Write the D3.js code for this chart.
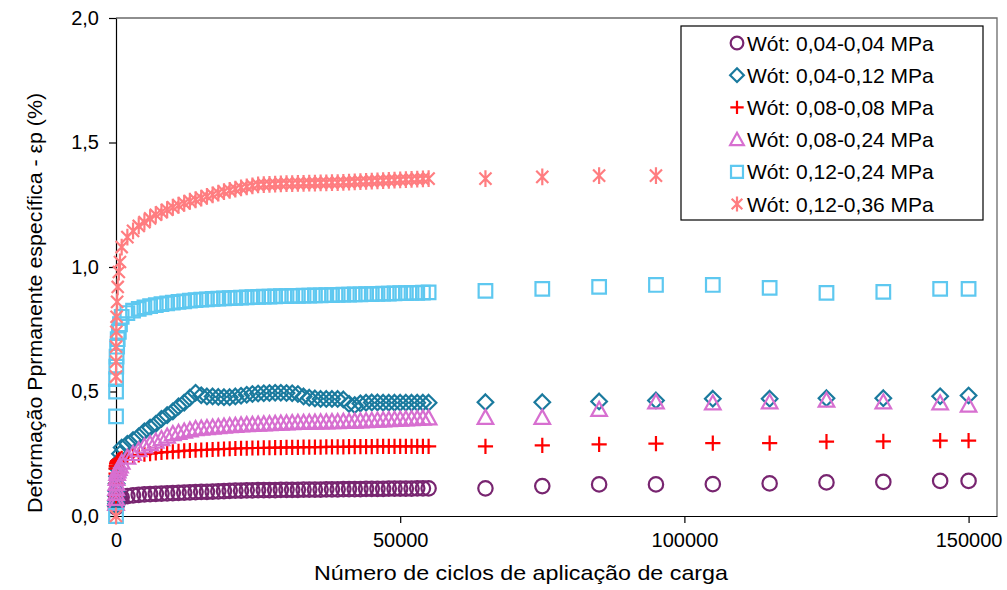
<!DOCTYPE html>
<html>
<head>
<meta charset="utf-8">
<script src="https://cdn.jsdelivr.net/npm/d3@7"></script>
<style>
  body { margin: 0; background: #fff; }
  svg { display: block; font-family: "Liberation Sans", Arial, sans-serif; }
</style>
</head>
<body>
<svg></svg>
<script>
var width = 1007, height = 590;

// ciclos (eixo x)
var cycles = [0, 5, 10, 20, 50, 100, 200, 300, 500, 700,
  1000, 2000, 3000, 4000, 5000, 6000, 7000, 8000, 9000, 10000,
  11000, 12000, 13000, 14000, 15000, 16000, 17000, 18000, 19000, 20000,
  21000, 22000, 23000, 24000, 25000, 26000, 27000, 28000, 29000, 30000,
  31000, 32000, 33000, 34000, 35000, 36000, 37000, 38000, 39000, 40000,
  41000, 42000, 43000, 44000, 45000, 46000, 47000, 48000, 49000, 50000,
  51000, 52000, 53000, 54000, 55000,
  65000, 75000, 85000, 95000, 105000, 115000, 125000, 135000, 145000, 150000];

var w004_004 = [0.035, 0.04, 0.04, 0.045, 0.05, 0.055, 0.06, 0.065, 0.07, 0.072,
  0.075, 0.08, 0.083, 0.085, 0.087, 0.088, 0.089, 0.09, 0.091, 0.092,
  0.093, 0.094, 0.095, 0.096, 0.097, 0.097, 0.098, 0.099, 0.1, 0.101,
  0.102, 0.102, 0.103, 0.103, 0.104, 0.104, 0.104, 0.104, 0.105, 0.105,
  0.105, 0.105, 0.106, 0.106, 0.106, 0.106, 0.107, 0.107, 0.107, 0.108,
  0.108, 0.108, 0.108, 0.109, 0.109, 0.109, 0.109, 0.11, 0.11, 0.11,
  0.11, 0.11, 0.111, 0.111, 0.111,
  0.111, 0.12, 0.127, 0.127, 0.128, 0.131, 0.135, 0.137, 0.141, 0.141];

var w004_012 = [0.04, 0.05, 0.06, 0.08, 0.1, 0.13, 0.16, 0.19, 0.22, 0.25,
  0.275, 0.29, 0.305, 0.32, 0.34, 0.355, 0.37, 0.39, 0.405, 0.42,
  0.44, 0.455, 0.475, 0.495, 0.485, 0.48, 0.48, 0.478, 0.477, 0.477,
  0.48, 0.483, 0.487, 0.49, 0.492, 0.493, 0.494, 0.495, 0.495, 0.494,
  0.493, 0.49, 0.48, 0.475, 0.472, 0.47, 0.47, 0.47, 0.47, 0.468,
  0.45, 0.445, 0.452, 0.455, 0.456, 0.456, 0.455, 0.455, 0.455, 0.455,
  0.455, 0.455, 0.455, 0.455, 0.455,
  0.457, 0.457, 0.46, 0.464, 0.471, 0.471, 0.473, 0.473, 0.481, 0.484];

var w008_008 = [0.08, 0.13, 0.17, 0.19, 0.2, 0.21, 0.215, 0.22, 0.225, 0.228,
  0.232, 0.238, 0.242, 0.245, 0.248, 0.25, 0.253, 0.255, 0.257, 0.258,
  0.26, 0.262, 0.263, 0.264, 0.265, 0.266, 0.267, 0.268, 0.269, 0.27,
  0.271, 0.272, 0.272, 0.273, 0.273, 0.274, 0.274, 0.275, 0.275, 0.276,
  0.276, 0.276, 0.277, 0.277, 0.277, 0.277, 0.278, 0.278, 0.278, 0.278,
  0.279, 0.279, 0.279, 0.279, 0.279, 0.28, 0.28, 0.28, 0.28, 0.28,
  0.28, 0.28, 0.28, 0.28, 0.28,
  0.28, 0.284, 0.288, 0.291, 0.293, 0.293, 0.299, 0.3, 0.303, 0.303];

var w008_024 = [0.05, 0.07, 0.09, 0.11, 0.13, 0.15, 0.17, 0.18, 0.19, 0.2,
  0.215, 0.235, 0.25, 0.265, 0.28, 0.29, 0.3, 0.31, 0.32, 0.33,
  0.335, 0.34, 0.345, 0.35, 0.352, 0.354, 0.356, 0.358, 0.36, 0.362,
  0.363, 0.365, 0.366, 0.367, 0.368, 0.369, 0.37, 0.371, 0.372, 0.373,
  0.374, 0.375, 0.375, 0.376, 0.376, 0.377, 0.377, 0.378, 0.378, 0.379,
  0.379, 0.38, 0.381, 0.382, 0.383, 0.384, 0.385, 0.386, 0.387, 0.388,
  0.389, 0.39, 0.391, 0.392, 0.393,
  0.395, 0.395, 0.427, 0.457, 0.453, 0.457, 0.464, 0.457, 0.453, 0.444];

var w012_024 = [0.0, 0.4, 0.5, 0.55, 0.6, 0.64, 0.68, 0.71, 0.74, 0.77,
  0.8, 0.815, 0.825, 0.832, 0.838, 0.843, 0.847, 0.851, 0.854, 0.857,
  0.86, 0.862, 0.865, 0.867, 0.869, 0.87, 0.872, 0.873, 0.874, 0.875,
  0.876, 0.877, 0.878, 0.879, 0.88, 0.881, 0.881, 0.882, 0.883, 0.883,
  0.884, 0.884, 0.885, 0.885, 0.886, 0.886, 0.887, 0.887, 0.888, 0.889,
  0.889, 0.89, 0.89, 0.891, 0.891, 0.892, 0.893, 0.893, 0.894, 0.895,
  0.895, 0.896, 0.896, 0.897, 0.898,
  0.904, 0.912, 0.92, 0.928, 0.928, 0.916, 0.896, 0.9, 0.912, 0.912];

// pontos atrás da legenda não são visíveis -> null
var w012_036 = [0.0, 0.56, 0.62, 0.68, 0.74, 0.8, 0.86, 0.92, 0.98, 1.02,
  1.08, 1.12, 1.145, 1.165, 1.18, 1.195, 1.21, 1.22, 1.23, 1.24,
  1.248, 1.256, 1.264, 1.27, 1.277, 1.284, 1.29, 1.297, 1.303, 1.308,
  1.313, 1.318, 1.322, 1.326, 1.33, 1.331, 1.332, 1.333, 1.334, 1.335,
  1.335, 1.336, 1.336, 1.337, 1.337, 1.338, 1.338, 1.339, 1.339, 1.34,
  1.341, 1.342, 1.343, 1.344, 1.345, 1.346, 1.347, 1.348, 1.349, 1.35,
  1.351, 1.352, 1.353, 1.354, 1.355,
  1.355, 1.362, 1.367, 1.367, null, null, null, null, null, null];

var seriesNames = ["Wót: 0,04-0,04 MPa", "Wót: 0,04-0,12 MPa", "Wót: 0,08-0,08 MPa",
  "Wót: 0,08-0,24 MPa", "Wót: 0,12-0,24 MPa", "Wót: 0,12-0,36 MPa"];
var seriesValues = [w004_004, w004_012, w008_008, w008_024, w012_024, w012_036];
var seriesColors = ["#782570", "#1a7a9e", "#ff0000", "#d76fd0", "#5ec8f0", "#ff7d80"];
var seriesShapes = ["circle", "diamond", "plus", "triangle", "square", "star"];

var xTicks = [0, 50000, 100000, 150000];
var yTicks = [0, 0.5, 1.0, 1.5, 2.0];

var svg = d3.select("svg").attr("width", width).attr("height", height);

var x = d3.scaleLinear().domain([0, 155000]).range([116, 997]);
var y = d3.scaleLinear().domain([0, 2]).range([516, 18]);

// marcadores
function shapePath(shape, s) {
  var p = d3.path();
  if (shape == "circle") {
    p.arc(0, 0, s, 0, 2 * Math.PI);
  } else if (shape == "diamond") {
    p.moveTo(0, -s); p.lineTo(s, 0); p.lineTo(0, s); p.lineTo(-s, 0); p.closePath();
  } else if (shape == "plus") {
    p.moveTo(-s, 0); p.lineTo(s, 0); p.moveTo(0, -s); p.lineTo(0, s);
  } else if (shape == "triangle") {
    p.moveTo(0, -s); p.lineTo(s, s * 0.8); p.lineTo(-s, s * 0.8); p.closePath();
  } else if (shape == "square") {
    p.rect(-s * 0.85, -s * 0.85, s * 1.7, s * 1.7);
  } else if (shape == "star") {
    var d = s * 0.72;
    p.moveTo(0, -s); p.lineTo(0, s);
    p.moveTo(-d, -d); p.lineTo(d, d);
    p.moveTo(d, -d); p.lineTo(-d, d);
  }
  return p.toString();
}
var markerSize = [7.2, 7.8, 7.6, 7.8, 8, 8.4];

// borda da área de plotagem
svg.append("path")
  .attr("d", "M" + x(0) + "," + y(2) + "H" + x(155000) + "V" + y(0))
  .attr("fill", "none")
  .attr("stroke", "#6a6a6a")
  .attr("stroke-width", 1.3);

// eixos
var xAxis = svg.append("g")
  .attr("transform", "translate(0," + y(0) + ")")
  .call(d3.axisBottom(x).tickValues(xTicks).tickSize(7).tickSizeOuter(0).tickFormat(d3.format("d")));
var yAxis = svg.append("g")
  .attr("transform", "translate(" + x(0) + ",0)")
  .call(d3.axisLeft(y).tickValues(yTicks).tickSize(7).tickSizeOuter(0)
    .tickFormat(function(d) { return d3.format(".1f")(d).replace(".", ","); }));

[xAxis, yAxis].forEach(function(g) {
  g.select(".domain").attr("stroke", "#000").attr("stroke-width", 1.2);
  g.selectAll(".tick line").attr("stroke", "#000").attr("stroke-width", 1.2);
  g.selectAll(".tick text").attr("fill", "#000").style("font-size", "20px")
    .style("font-family", "'Liberation Sans', Arial, sans-serif");
});
xAxis.selectAll(".tick text").attr("y", 17);
yAxis.selectAll(".tick text").attr("x", -17);

// séries
seriesValues.forEach(function(vals, i) {
  var pts = cycles.map(function(c, j) { return { c: c, v: vals[j] }; })
    .filter(function(d) { return d.v != null; });
  svg.append("g")
    .selectAll("path")
    .data(pts)
    .enter()
    .append("path")
    .attr("transform", function(d) { return "translate(" + x(d.c) + "," + y(d.v) + ")"; })
    .attr("d", shapePath(seriesShapes[i], markerSize[i]))
    .attr("fill", "none")
    .attr("stroke", seriesColors[i])
    .attr("stroke-width", 2.2);
});

// títulos dos eixos
svg.append("text")
  .attr("x", 521)
  .attr("y", 580)
  .attr("text-anchor", "middle")
  .attr("textLength", 414)
  .attr("lengthAdjust", "spacingAndGlyphs")
  .style("font-size", "21px")
  .text("Número de ciclos de aplicação de carga");

svg.append("text")
  .attr("transform", "translate(42,303) rotate(-90)")
  .attr("text-anchor", "middle")
  .attr("textLength", 420)
  .attr("lengthAdjust", "spacingAndGlyphs")
  .style("font-size", "20.5px")
  .text("Deformação Pprmanente específica - εp (%)");

// legenda
var legend = svg.append("g");
legend.append("rect")
  .attr("x", 681).attr("y", 26)
  .attr("width", 302).attr("height", 194)
  .attr("fill", "#fff")
  .attr("stroke", "#000")
  .attr("stroke-width", 1.2);

var rowY = d3.scalePoint().domain(d3.range(seriesNames.length)).range([43, 204]);
seriesNames.forEach(function(name, i) {
  legend.append("path")
    .attr("transform", "translate(737," + rowY(i) + ")")
    .attr("d", shapePath(seriesShapes[i], markerSize[i] * 0.88))
    .attr("fill", "none")
    .attr("stroke", seriesColors[i])
    .attr("stroke-width", 2.2);
  legend.append("text")
    .attr("x", 747)
    .attr("y", rowY(i))
    .attr("dy", "0.36em")
    .style("font-size", "21px")
    .text(name);
});
</script>
</body>
</html>
